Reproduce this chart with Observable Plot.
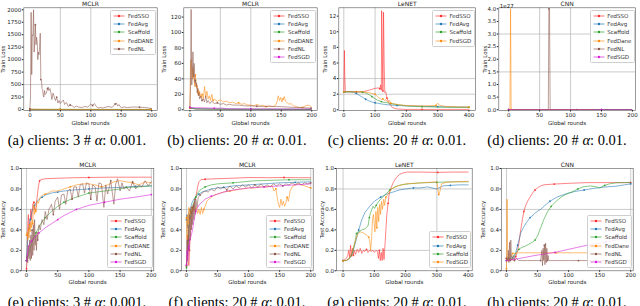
<!DOCTYPE html>
<html><head><meta charset="utf-8">
<script src="https://cdn.jsdelivr.net/npm/d3@7"></script>
<script src="https://cdn.jsdelivr.net/npm/@observablehq/plot@0.6"></script>
<style>
body{margin:0;background:#fff;}
#fig{position:relative;width:640px;height:306px;overflow:hidden;font-family:"DejaVu Sans",sans-serif;background:#fff;}
.panel{position:absolute;}
.panel svg{background:transparent;}
.cap{position:absolute;width:160px;text-align:center;font-family:"Liberation Serif","Times New Roman",serif;font-size:14.5px;white-space:nowrap;color:#000;line-height:1;}
.leg{position:absolute;background:rgba(255,255,255,0.85);border:0.6px solid #cfcfcf;border-radius:1.5px;font-size:5.5px;color:#333;padding:1px 2px 1px 2px;box-sizing:border-box;}
.leg .row{display:flex;align-items:center;height:8.2px;white-space:nowrap;}
</style>
</head><body><div id="fig"></div>
<script>
// ---------- data (rounds, value) ----------
// (a) MCLR, 3 clients, alpha 0.001 — Train Loss
const a_FedSSO = [[0,2.3],[5,1.5],[20,0.6],[50,0.4],[100,0.3],[150,0.3],[199,0.3]];
const a_FedAvg = [[0,2.3],[5,1.8],[20,1.0],[50,0.8],[100,0.6],[150,0.5],[199,0.5]];
const a_Scaffold = [[0,2.3],[5,2.0],[20,1.2],[50,0.9],[100,0.7],[150,0.6],[199,0.5]];
const a_FedDANE = [[0,2.3],[5,4],[20,3],[50,2],[100,1.5],[150,1.2],[199,1]];
const a_FedNL = [[0,10],[1,250],[2,1950],[3,700],[4,1500],[5,1480],[6,2000],[7,1150],[8,1400],[9,1700],[10,1300],[11,1450],[12,1350],[13,1000],[14,1150],[15,1100],[16,1250],[17,1530],[18,600],[19,580],[20,420],[21,400],[22,270],[23,250],[24,380],[25,300],[27,330],[29,420],[30,450],[31,380],[33,420],[35,300],[36,200],[38,330],[40,250],[42,180],[44,250],[46,130],[48,180],[50,120],[52,150],[55,190],[57,100],[60,140],[63,60],[66,90],[70,70],[73,40],[76,70],[80,50],[85,40],[90,60],[95,50],[100,110],[103,80],[106,120],[109,60],[112,30],[116,40],[120,30],[125,50],[130,60],[135,40],[140,110],[142,130],[144,70],[146,100],[148,60],[150,40],[155,50],[160,40],[170,50],[180,45],[190,40],[195,30],[199,20]];

// (b) MCLR, 20 clients, alpha 0.01 — Train Loss
const b_FedSSO = [[0,2.3],[10,1],[50,0.5],[100,0.4],[199,0.3]];
const b_FedAvg = [[0,2.3],[10,1.2],[50,0.8],[100,0.6],[199,0.5]];
const b_Scaffold = [[0,2.3],[10,1],[50,0.6],[100,0.5],[199,0.4]];
const b_FedDANE = [[0,2],[1,58],[2,65],[3,50],[4,40],[5,55],[6,42],[7,38],[8,30],[9,45],[10,35],[11,28],[12,32],[13,20],[14,26],[15,18],[16,24],[18,15],[20,20],[22,14],[24,30],[26,16],[28,24],[30,14],[32,18],[34,12],[36,20],[38,12],[40,14],[45,11],[50,13],[55,10],[60,11],[65,9],[70,10],[75,8],[80,9],[85,7],[90,8],[95,6],[100,6],[105,5],[110,7],[115,5],[120,6],[125,4],[130,5],[135,4],[140,5],[143,10],[145,18],[147,12],[149,16],[151,10],[153,14],[155,17],[157,11],[160,9],[163,7],[166,8],[170,5],[175,4],[180,3],[185,3],[190,5],[195,6],[199,4]];
const b_FedNL = [[0,3],[1,30],[2,130],[3,32],[4,45],[5,75],[6,42],[7,60],[8,35],[9,38],[10,30],[11,35],[12,22],[13,28],[14,18],[15,22],[16,14],[18,18],[20,12],[22,14],[24,10],[26,18],[28,9],[30,12],[33,8],[36,11],[40,8],[45,9],[50,7],[55,8],[60,6],[65,7],[70,6],[80,6],[90,5],[100,5],[110,4.5],[120,4],[130,4.5],[140,4],[150,4],[160,3.5],[170,3],[180,3],[190,2.5],[199,2]];
const b_FedSGD = [[0,3],[10,2.5],[20,2.5],[40,2],[55,2],[60,1.2],[100,1],[150,1],[199,1]];

// (c) LeNET, 20 clients, alpha 0.01 — Train Loss
const c_FedSSO = [[0,2.3],[2,7.6],[3,4.5],[5,2.3],[20,2.35],[40,2.3],[60,2.3],[80,2.5],[100,2.75],[110,2.8],[115,2.7],[118,3.2],[120,2.5],[121,12.7],[123,7.7],[125,2.4],[127,12.5],[129,6],[131,2.2],[134,2.3],[138,1.5],[145,0.8],[155,0.3],[170,0.1],[200,0.05],[250,0.05],[300,0.05],[350,0.05],[400,0.05]];
const c_FedAvg = [[0,2.3],[20,2.3],[30,2.25],[40,2.1],[50,1.85],[60,1.6],[70,1.35],[80,1.15],[90,1.0],[100,0.9],[120,0.75],[140,0.65],[170,0.55],[200,0.5],[250,0.45],[300,0.4],[350,0.37],[400,0.35]];
const c_Scaffold = [[0,2.3],[20,2.3],[40,2.3],[60,2.25],[70,2.15],[80,1.95],[90,1.7],[100,1.4],[110,1.2],[120,1.05],[130,0.95],[140,0.9],[150,0.8],[175,0.65],[200,0.5],[250,0.4],[300,0.35],[350,0.3],[400,0.3]];
const c_FedSGD = [[0,2.3],[20,2.3],[40,2.3],[60,2.3],[80,2.2],[100,2.0],[105,1.8],[110,1.6],[115,1.5],[120,1.3],[125,1.4],[130,1.2],[135,1.3],[140,1.0],[145,1.2],[150,0.85],[160,0.75],[175,0.65],[200,0.55],[250,0.5],[295,0.55],[300,0.85],[305,0.6],[320,0.45],[350,0.4],[400,0.35]];

// (d) CNN, 20 clients, alpha 0.01 — Train Loss (x 1e27)
const d_FedSSO = [[0,0],[50,0],[100,0],[150,0],[199,0]];
const d_FedAvg = [[0,0],[50,0],[100,0],[150,0],[199,0]];
const d_Scaffold = [[0,0],[50,0],[100,0],[150,0],[199,0]];
const d_FedDANE = [[0,0],[2,0],[3,4.0],[4,0],[50,0],[100,0],[135,0]];
const d_FedNL = [[0,0],[55,0],[64,0],[65,4.0],[66,4.0],[67,0],[110,0],[165,0],[199,0]];
const d_FedSGD = [[0,0],[50,0],[100,0],[150,0],[199,0]];

// (e) MCLR, 3 clients, alpha 0.001 — Test Accuracy
const e_FedSSO = [[0,0.02],[1,0.1],[2,0.45],[3,0.55],[4,0.4],[5,0.45],[6,0.5],[7,0.6],[8,0.5],[10,0.65],[12,0.67],[13,0.6],[15,0.6],[17,0.72],[19,0.82],[21,0.88],[23,0.89],[30,0.9],[50,0.905],[77,0.91],[100,0.912],[133,0.915],[160,0.915],[190,0.915],[200,0.915]];
const e_FedAvg = [[0,0.1],[2,0.3],[4,0.42],[6,0.5],[8,0.56],[10,0.6],[13,0.64],[16,0.67],[20,0.7],[25,0.72],[30,0.74],[40,0.76],[50,0.77],[60,0.78],[75,0.79],[100,0.8],[125,0.81],[150,0.815],[175,0.825],[200,0.83]];
const e_Scaffold = [[0,0.1],[5,0.2],[10,0.3],[15,0.37],[20,0.43],[25,0.48],[30,0.52],[40,0.58],[50,0.63],[60,0.67],[75,0.71],[90,0.74],[100,0.76],[125,0.78],[150,0.8],[160,0.815],[180,0.82],[200,0.83]];
const e_FedDANE = [[0,0.35],[1,0.38],[2,0.3],[3,0.42],[4,0.32],[5,0.45],[6,0.38],[7,0.48],[8,0.42],[9,0.5],[10,0.46],[11,0.6],[12,0.65],[13,0.55],[14,0.6],[15,0.58],[17,0.68],[19,0.66],[22,0.72],[26,0.74],[30,0.75],[35,0.76],[40,0.78],[50,0.78],[60,0.8],[70,0.82],[80,0.84],[90,0.85],[100,0.85],[110,0.84],[120,0.82],[130,0.84],[140,0.87],[150,0.88],[160,0.87],[170,0.86],[180,0.84],[190,0.87],[200,0.86]];
const e_FedNL = [[0,0.1],[1,0.15],[2,0.08],[3,0.25],[4,0.12],[5,0.3],[6,0.1],[7,0.35],[8,0.12],[9,0.4],[10,0.15],[11,0.45],[12,0.2],[13,0.5],[14,0.25],[15,0.35],[16,0.2],[17,0.38],[18,0.3],[20,0.45],[22,0.4],[25,0.5],[28,0.45],[30,0.58],[33,0.5],[36,0.6],[40,0.65],[43,0.55],[46,0.68],[50,0.72],[53,0.6],[56,0.74],[60,0.75],[63,0.65],[66,0.78],[70,0.8],[73,0.7],[76,0.82],[80,0.82],[83,0.72],[86,0.84],[90,0.85],[93,0.76],[96,0.86],[100,0.85],[103,0.7],[106,0.84],[110,0.82],[113,0.68],[116,0.86],[120,0.85],[124,0.62],[127,0.84],[130,0.75],[135,0.88],[140,0.65],[143,0.85],[146,0.9],[150,0.78],[153,0.86],[156,0.8],[160,0.82],[165,0.78],[170,0.87],[175,0.8],[180,0.84],[185,0.82],[190,0.88],[195,0.83],[200,0.87]];
const e_FedSGD = [[0,0.1],[3,0.22],[5,0.26],[8,0.29],[10,0.3],[15,0.34],[20,0.37],[30,0.42],[40,0.46],[50,0.5],[60,0.54],[70,0.57],[80,0.6],[90,0.62],[100,0.64],[125,0.67],[150,0.7],[175,0.72],[200,0.745]];

// (f) MCLR, 20 clients, alpha 0.01 — Test Accuracy
const f_FedSSO = [[0,0.05],[1,0.1],[2,0.35],[3,0.06],[4,0.05],[5,0.2],[6,0.35],[8,0.5],[10,0.6],[12,0.65],[14,0.7],[16,0.75],[18,0.82],[20,0.87],[23,0.89],[30,0.895],[48,0.9],[75,0.905],[100,0.912],[130,0.91],[157,0.912],[180,0.91],[200,0.91]];
const f_FedAvg = [[0,0.5],[1,0.55],[2,0.42],[3,0.5],[4,0.58],[6,0.6],[8,0.65],[10,0.68],[13,0.71],[16,0.73],[20,0.75],[25,0.77],[30,0.78],[40,0.8],[50,0.81],[60,0.815],[75,0.83],[100,0.84],[125,0.85],[150,0.86],[175,0.865],[200,0.87]];
const f_Scaffold = [[0,0.03],[1,0.1],[2,0.2],[3,0.3],[4,0.4],[6,0.5],[8,0.57],[10,0.63],[12,0.67],[15,0.72],[18,0.76],[22,0.79],[30,0.82],[40,0.84],[50,0.85],[75,0.86],[110,0.88],[140,0.885],[165,0.89],[200,0.89]];
const f_FedDANE = [[0,0.52],[1,0.3],[2,0.55],[3,0.45],[4,0.62],[5,0.5],[6,0.6],[7,0.55],[8,0.63],[10,0.6],[12,0.64],[14,0.58],[16,0.62],[18,0.56],[20,0.6],[22,0.55],[24,0.62],[26,0.56],[28,0.6],[30,0.63],[33,0.68],[36,0.7],[40,0.72],[45,0.74],[50,0.75],[55,0.76],[60,0.77],[70,0.78],[80,0.79],[90,0.8],[100,0.81],[110,0.81],[120,0.82],[130,0.82],[138,0.83],[141,0.78],[144,0.8],[146,0.72],[148,0.65],[150,0.62],[152,0.7],[154,0.64],[156,0.68],[158,0.63],[160,0.66],[162,0.72],[164,0.68],[167,0.78],[170,0.82],[175,0.84],[180,0.85],[185,0.84],[190,0.83],[195,0.82],[200,0.81]];
const f_FedNL = [[0,0.05],[1,0.3],[2,0.15],[3,0.45],[4,0.2],[5,0.55],[6,0.3],[7,0.6],[8,0.4],[9,0.62],[10,0.45],[11,0.65],[12,0.5],[13,0.68],[14,0.55],[15,0.7],[17,0.62],[19,0.72],[22,0.74],[25,0.76],[30,0.78],[35,0.77],[40,0.8],[45,0.78],[50,0.82],[55,0.8],[60,0.82],[65,0.79],[70,0.83],[75,0.8],[80,0.83],[85,0.81],[90,0.84],[95,0.82],[100,0.84],[105,0.81],[110,0.84],[115,0.82],[120,0.85],[125,0.82],[130,0.84],[135,0.82],[140,0.85],[145,0.83],[150,0.85],[155,0.83],[160,0.85],[165,0.84],[170,0.86],[175,0.84],[180,0.86],[185,0.84],[190,0.86],[195,0.85],[200,0.86]];
const f_FedSGD = [[0,0.06],[1,0.2],[2,0.1],[3,0.25],[4,0.2],[5,0.3],[7,0.33],[9,0.38],[11,0.45],[13,0.52],[15,0.58],[18,0.62],[21,0.65],[25,0.67],[30,0.7],[40,0.73],[50,0.75],[60,0.77],[75,0.79],[100,0.81],[125,0.82],[150,0.83],[175,0.84],[190,0.845],[200,0.85]];

// (g) LeNET, 20 clients, alpha 0.01 — Test Accuracy
const g_FedSSO = [[0,0.1],[5,0.11],[10,0.12],[15,0.15],[18,0.2],[21,0.13],[24,0.25],[27,0.14],[30,0.22],[33,0.15],[36,0.2],[40,0.16],[45,0.21],[50,0.18],[55,0.22],[60,0.17],[65,0.2],[70,0.19],[75,0.21],[80,0.18],[85,0.2],[90,0.19],[95,0.2],[100,0.18],[105,0.2],[110,0.19],[113,0.12],[116,0.2],[119,0.1],[122,0.18],[125,0.1],[128,0.22],[131,0.11],[134,0.25],[137,0.4],[140,0.55],[144,0.66],[148,0.76],[152,0.8],[160,0.86],[170,0.91],[180,0.94],[190,0.955],[203,0.965],[250,0.965],[303,0.962],[350,0.965],[400,0.965]];
const g_FedAvg = [[0,0.1],[10,0.1],[20,0.12],[30,0.18],[40,0.28],[50,0.4],[60,0.5],[70,0.57],[85,0.63],[100,0.68],[120,0.72],[140,0.75],[160,0.77],[180,0.79],[200,0.8],[225,0.81],[245,0.81],[270,0.82],[300,0.8],[320,0.83],[343,0.835],[370,0.84],[400,0.84]];
const g_Scaffold = [[0,0.1],[10,0.1],[20,0.12],[30,0.16],[38,0.28],[43,0.365],[50,0.38],[60,0.4],[70,0.41],[80,0.44],[84,0.52],[87,0.56],[92,0.6],[96,0.63],[101,0.61],[106,0.64],[112,0.67],[120,0.7],[130,0.73],[140,0.76],[150,0.79],[165,0.82],[185,0.84],[210,0.85],[253,0.86],[300,0.865],[350,0.87],[400,0.87]];
const g_FedSGD = [[0,0.1],[10,0.1],[20,0.12],[30,0.2],[40,0.3],[47,0.36],[55,0.38],[65,0.37],[75,0.35],[82,0.33],[86,0.28],[88,0.2],[91,0.3],[94,0.5],[97,0.55],[100,0.45],[102,0.38],[105,0.58],[108,0.42],[111,0.62],[114,0.48],[117,0.65],[120,0.55],[123,0.68],[126,0.6],[130,0.7],[133,0.64],[137,0.72],[142,0.74],[150,0.78],[160,0.81],[175,0.83],[200,0.85],[250,0.86],[300,0.87],[303,0.8],[306,0.745],[310,0.78],[315,0.85],[330,0.865],[360,0.87],[400,0.875]];

// (h) CNN, 20 clients, alpha 0.01 — Test Accuracy
const h_FedSSO = [[0,0.12],[3,0.13],[6,0.1],[9,0.12],[12,0.1],[15,0.14],[18,0.2],[20,0.27],[22,0.36],[25,0.48],[28,0.58],[31,0.64],[34,0.68],[38,0.72],[42,0.76],[46,0.79],[50,0.81],[55,0.83],[60,0.84],[70,0.845],[77,0.848],[100,0.855],[130,0.862],[160,0.862],[190,0.862],[200,0.862]];
const h_FedAvg = [[0,0.1],[4,0.12],[8,0.14],[12,0.12],[15,0.18],[18,0.25],[21,0.32],[23,0.37],[27,0.42],[32,0.47],[38,0.52],[44,0.55],[48,0.575],[55,0.6],[62,0.64],[70,0.68],[81,0.72],[90,0.74],[100,0.76],[110,0.775],[125,0.79],[140,0.805],[160,0.82],[176,0.827],[190,0.84],[200,0.85]];
const h_Scaffold = [[0,0.1],[4,0.13],[8,0.11],[12,0.15],[16,0.18],[20,0.21],[25,0.23],[30,0.24],[36,0.26],[42,0.28],[46,0.3],[50,0.34],[55,0.42],[60,0.5],[66,0.577],[72,0.63],[80,0.68],[88,0.72],[95,0.745],[105,0.77],[115,0.8],[123,0.82],[135,0.83],[145,0.82],[150,0.81],[158,0.835],[166,0.85],[176,0.86],[190,0.862],[200,0.865]];
const h_FedDANE = [[0,0.02],[1,0.7],[2,0.15],[3,0.1],[5,0.17],[8,0.14],[10,0.17],[21,0.176],[50,0.176],[80,0.176],[110,0.176],[133,0.176]];
const h_FedNL = [[0,0.12],[2,0.1],[3,0.2],[4,0.08],[5,0.28],[6,0.1],[7,0.3],[8,0.12],[9,0.1],[11,0.15],[13,0.1],[16,0.12],[20,0.1],[34,0.1],[50,0.1],[55,0.1],[57,0.2],[58,0.05],[59,0.22],[60,0.1],[61,0.25],[62,0.06],[63,0.27],[64,0.08],[65,0.22],[66,0.1],[67,0.15],[68,0.1],[80,0.1],[100,0.1],[116,0.1],[150,0.1],[180,0.1],[200,0.1]];
const h_FedSGD = [[0,0.1],[20,0.12],[46,0.15],[78,0.18],[100,0.21],[130,0.25],[160,0.28],[190,0.32],[200,0.33]];

// ---------- labels / ticks ----------
const titles = ["MCLR","MCLR","LeNET","CNN","MCLR","MCLR","LeNET","CNN"];
const captions = [
  ["(a) clients: 3 # ","α",": 0.001."],["(b) clients: 20 # ","α",": 0.01."],
  ["(c) clients: 20 # ","α",": 0.01."],["(d) clients: 20 # ","α",": 0.01."],
  ["(e) clients: 3 # ","α",": 0.001."],["(f) clients: 20 # ","α",": 0.01."],
  ["(g) clients: 20 # ","α",": 0.01."],["(h) clients: 20 # ","α",": 0.01."]];
const ticks200 = [0,50,100,150,200];
const ticks400 = [0,100,200,300,400];
const yTicksA = [0,250,500,750,1000,1250,1500,1750,2000];
const yTicksB = [0,20,40,60,80,100,120];
const yTicksC = [0,2,4,6,8,10,12];
const yTicksD = [0,0.5,1,1.5,2,2.5,3,3.5,4];
const yTicksAcc = [0,0.2,0.4,0.6,0.8,1.0];

const colorOf = {FedSSO:"#ff2a2a",FedAvg:"#1f77b4",Scaffold:"#2ca02c",FedDANE:"#ff8c10",FedNL:"#8c564b",FedSGD:"#d81ed8",FedSGDo:"#ff8c10"};

// ---------- panel configuration ----------
const panels = [
 {row:0,col:0,names:["FedSSO","FedAvg","Scaffold","FedDANE","FedNL"],labels:["FedSSO","FedAvg","Scaffold","FedDANE","FedNL"],
  data:[a_FedSSO,a_FedAvg,a_Scaffold,a_FedDANE,a_FedNL],xd:[-10,209],xt:ticks200,yd:[-20,2040],yt:yTicksA,yf:d3.format("d"),
  gx:[50,100],gy:[500],yl:"Train Loss",ml:23.3,mr:3.3,lo:22.5},
 {row:0,col:1,names:["FedSSO","FedAvg","Scaffold","FedDANE","FedNL","FedSGD"],labels:["FedSSO","FedAvg","Scaffold","FedDANE","FedNL","FedSGD"],
  data:[b_FedSSO,b_FedAvg,b_Scaffold,b_FedDANE,b_FedNL,b_FedSGD],xd:[-10,209],xt:ticks200,yd:[-1,132],yt:yTicksB,yf:d3.format("d"),
  gx:[50,100],gy:[40],yl:"Train Loss",ml:23.3,mr:3.3,lo:21.7},
 {row:0,col:2,names:["FedSSO","FedAvg","Scaffold","FedSGDo"],labels:["FedSSO","FedAvg","Scaffold","FedSGD"],
  data:[c_FedSSO,c_FedAvg,c_Scaffold,c_FedSGD],xd:[-16,421],xt:ticks400,yd:[-0.09,13.07],yt:yTicksC,yf:d3.format("d"),
  gx:[0,100],gy:[2,4],yl:"Train Loss",ml:18.3,mr:5,lo:16},
 {row:0,col:3,names:["FedSSO","FedAvg","Scaffold","FedDANE","FedNL","FedSGD"],labels:["FedSSO","FedAvg","Scaffold","FedDane","FedNL","FedSGD"],
  data:[d_FedSSO,d_FedAvg,d_Scaffold,d_FedDANE,d_FedNL,d_FedSGD],xd:[-16,205],xt:ticks200,yd:[-0.03,4.04],yt:yTicksD,yf:d3.format(".1f"),
  gx:[50,100],gy:[1.5,3],yl:"Train Loss",ml:18.3,mr:5,lo:15.4,offset:"1e27"},
 {row:1,col:0,names:["FedSSO","FedAvg","Scaffold","FedDANE","FedNL","FedSGD"],labels:["FedSSO","FedAvg","Scaffold","FedDANE","FedNL","FedSGD"],
  data:[e_FedSSO,e_FedAvg,e_Scaffold,e_FedDANE,e_FedNL,e_FedSGD],xd:[-8,204],xt:ticks200,yd:[0,1],yt:yTicksAcc,yf:d3.format(".1f"),
  gx:[0,200],gy:[0.6],yl:"Test Accuracy",ml:21,mr:6.7,lo:20.4},
 {row:1,col:1,names:["FedSSO","FedAvg","Scaffold","FedDANE","FedNL","FedSGD"],labels:["FedSSO","FedAvg","Scaffold","FedDANE","FedNL","FedSGD"],
  data:[f_FedSSO,f_FedAvg,f_Scaffold,f_FedDANE,f_FedNL,f_FedSGD],xd:[-8,204],xt:ticks200,yd:[0,1],yt:yTicksAcc,yf:d3.format(".1f"),
  gx:[0,200],gy:[0.6],yl:"Test Accuracy",ml:21,mr:7.3,lo:20},
 {row:1,col:2,names:["FedSSO","FedAvg","Scaffold","FedSGDo"],labels:["FedSSO","FedAvg","Scaffold","FedSGD"],
  data:[g_FedSSO,g_FedAvg,g_Scaffold,g_FedSGD],xd:[-21,413],xt:ticks400,yd:[0,1],yt:yTicksAcc,yf:d3.format(".1f"),
  gx:[0,300],gy:[0.2,0.8],yl:"Test Accuracy",ml:16,mr:8.3,lo:16.5},
 {row:1,col:3,names:["FedSSO","FedAvg","Scaffold","FedDANE","FedNL","FedSGD"],labels:["FedSSO","FedAvg","Scaffold","FedDane","FedNL","FedSGD"],
  data:[h_FedSSO,h_FedAvg,h_Scaffold,h_FedDANE,h_FedNL,h_FedSGD],xd:[-8,204],xt:ticks200,yd:[0,1],yt:yTicksAcc,yf:d3.format(".1f"),
  gx:[0,200],gy:[0.6],yl:"Test Accuracy",ml:21,mr:7.3,lo:20.4}
];

const rowGeom = [
  {top:0, height:128, mt:7.3, mb:18, xlo:14.5},
  {top:153, height:135, mt:15, mb:17.7, xlo:13.5}
];

const fig = d3.select("#fig");

panels.forEach((p, i) => {
  const g = rowGeom[p.row];
  const marks = [
    Plot.ruleX(p.gx, {stroke:"#b4b4b4", strokeWidth:0.7}),
    Plot.ruleY(p.gy, {stroke:"#b4b4b4", strokeWidth:0.7})
  ];
  p.data.forEach((ser, k) => {
    const c = colorOf[p.names[k]];
    const every = ser.length > 40 ? 9 : (ser.length > 20 ? 5 : 3);
    marks.push(Plot.line(ser, {x:d=>d[0], y:d=>d[1], stroke:c, strokeWidth:0.8, strokeOpacity:0.72, clip:true}));
    marks.push(Plot.dot(ser.filter((d,j)=>j % every === 0), {x:d=>d[0], y:d=>d[1], r:0.9, fill:c, fillOpacity:0.9, stroke:"none", clip:true}));
  });
  marks.push(Plot.frame({stroke:"#555", strokeWidth:0.6}));
  marks.push(Plot.axisX({ticks:p.xt, tickSize:1.5, tickPadding:1, label:"Global rounds", labelAnchor:"center", labelArrow:"none", labelOffset:g.xlo}));
  marks.push(Plot.axisY({ticks:p.yt, tickFormat:p.yf, tickSize:1.5, tickPadding:1, label:p.yl, labelAnchor:"center", labelArrow:"none", labelOffset:p.lo}));
  marks.push(Plot.text([titles[i]], {frameAnchor:"top", lineAnchor:"bottom", dy:-1.5, fontSize:6}));
  if (p.offset) marks.push(Plot.text([p.offset], {frameAnchor:"top-left", textAnchor:"start", lineAnchor:"bottom", dx:1, dy:-0.3, fontSize:5.5}));

  const chart = Plot.plot({
    width:160, height:g.height,
    marginLeft:p.ml, marginRight:p.mr, marginTop:g.mt, marginBottom:g.mb,
    x:{domain:p.xd}, y:{domain:p.yd},
    style:{fontFamily:"DejaVu Sans, sans-serif", fontSize:"5.5px", background:"transparent", color:"#222"},
    marks
  });
  fig.append("div").attr("class","panel")
    .style("left", (p.col*160)+"px").style("top", g.top+"px")
    .node().appendChild(chart);

  // legend
  const frameRight = p.col*160 + 160 - p.mr;
  const leg = fig.append("div").attr("class","leg").style("right", (640 - frameRight + 0.5)+"px");
  if (p.row === 0) leg.style("top", (g.top + g.mt + 2.7)+"px");
  else leg.style("bottom", (306 - (g.top + g.height - g.mb) + 2.3)+"px");
  p.names.forEach((n, k) => {
    const c = colorOf[n];
    const r = leg.append("div").attr("class","row");
    const s = r.append("svg").attr("width",12).attr("height",6);
    s.append("line").attr("x1",0.5).attr("x2",11.5).attr("y1",3).attr("y2",3)
      .attr("stroke",c).attr("stroke-width",0.9).attr("stroke-opacity",0.75);
    s.append("circle").attr("cx",6).attr("cy",3).attr("r",1.2).attr("fill",c);
    r.append("span").style("margin-left","2.5px").text(p.labels[k]);
  });
});

// captions
panels.forEach((p, i) => {
  const cap = fig.append("div").attr("class","cap")
    .style("left", (p.col*160 - 3)+"px")
    .style("top", (p.row === 0 ? 132.5 : 294.5)+"px");
  cap.append("span").text(captions[i][0]);
  cap.append("i").text(captions[i][1]);
  cap.append("span").text(captions[i][2]);
});
</script></body></html>
